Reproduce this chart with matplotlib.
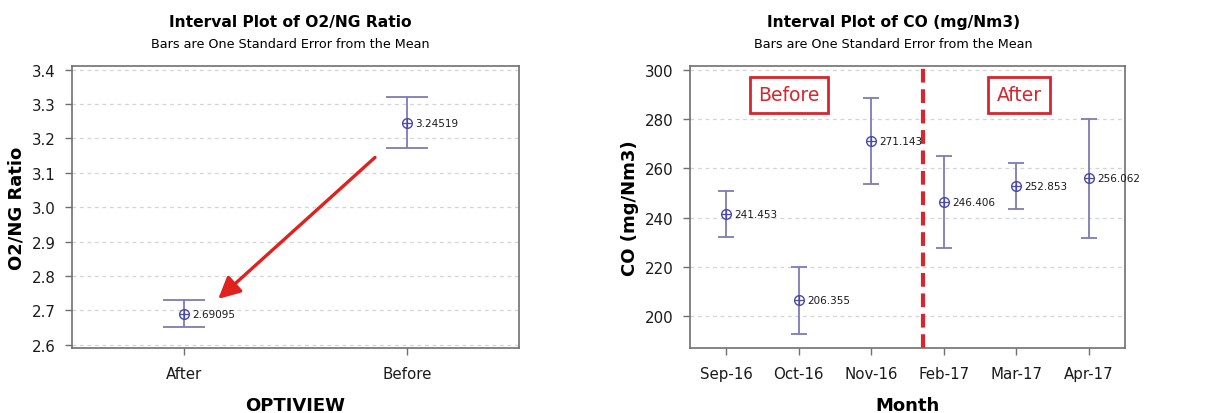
import matplotlib
matplotlib.use('Agg')
import matplotlib.pyplot as plt
from matplotlib.patches import FancyArrowPatch

# left panel data
opt_groups = ['After', 'Before']
opt_means = [2.69095, 3.24519]
opt_se = [0.040, 0.074]

# right panel data
months = ['Sep-16', 'Oct-16', 'Nov-16', 'Feb-17', 'Mar-17', 'Apr-17']
co_means = [241.453, 206.355, 271.143, 246.406, 252.853, 256.062]
co_se = [9.2, 13.6, 17.3, 18.7, 9.2, 24.2]

BAR_C = '#7c7cb8'
PT_C = '#4a4aa8'
RED = '#d8262e'
SPINE_C = '#707070'

plt.rcParams['font.family'] = ['DejaVu Sans Condensed', 'DejaVu Sans']

fig = plt.figure(figsize=(12.22, 4.14), dpi=100)
ax1 = fig.add_axes([0.0589, 0.157, 0.3658, 0.681])
ax2 = fig.add_axes([0.5646, 0.157, 0.3560, 0.681])


def style(ax):
    for s in ax.spines.values():
        s.set_color(SPINE_C)
        s.set_linewidth(1.2)
    ax.tick_params(axis='both', colors=SPINE_C, labelcolor='#1a1a1a',
                   labelsize=10.8, length=5, width=1)
    ax.tick_params(axis='y', pad=7)
    ax.tick_params(axis='x', pad=8)
    ax.yaxis.grid(True, linestyle=(0, (3, 3)), color='#d4d4d4', linewidth=0.9)
    ax.set_axisbelow(True)


def interval(ax, xs, means, se, cap, labels):
    ax.errorbar(xs, means, yerr=se, fmt='none', ecolor=BAR_C, elinewidth=1.3,
                capsize=cap, capthick=1.3, zorder=3)
    ax.plot(xs, means, 'o', ms=7, mfc='none', mec=PT_C, mew=1.0, zorder=4)
    ax.plot(xs, means, '+', ms=7, mec=PT_C, mew=0.9, zorder=4)
    for x, m, t in zip(xs, means, labels):
        ax.annotate(t, (x, m), xytext=(6, 0), textcoords='offset points',
                    va='center', ha='left', fontsize=7.5, color='#1a1a1a')


# ---- plot 1
xs1 = list(range(len(opt_groups)))
style(ax1)
interval(ax1, xs1, opt_means, opt_se, 14.8, ['%.5f' % v for v in opt_means])
ax1.set_xlim(-0.5, 1.5)
ax1.set_ylim(2.591, 3.41)
ax1.set_yticks([2.6, 2.7, 2.8, 2.9, 3.0, 3.1, 3.2, 3.3, 3.4])
ax1.set_xticks(xs1)
ax1.set_xticklabels(opt_groups)
ax1.set_ylabel('O2/NG Ratio', fontsize=13, fontweight='bold', labelpad=4)
ax1.set_xlabel('OPTIVIEW', fontsize=13, fontweight='bold', labelpad=11)
ax1.add_patch(FancyArrowPatch((0.865, 3.15), (0.145, 2.728), arrowstyle='-|>,head_length=0.6,head_width=0.3',
                              mutation_scale=22, color='#e0221f', lw=2.4, zorder=5))

# ---- plot 2
xs2 = list(range(len(months)))
style(ax2)
interval(ax2, xs2, co_means, co_se, 6, ['%.3f' % v for v in co_means])
ax2.set_xlim(-0.5, 5.5)
ax2.set_ylim(187, 301.6)
ax2.set_yticks([200, 220, 240, 260, 280, 300])
ax2.set_xticks(xs2)
ax2.set_xticklabels(months)
ax2.set_ylabel('CO (mg/Nm3)', fontsize=13, fontweight='bold', labelpad=4)
ax2.set_xlabel('Month', fontsize=13, fontweight='bold', labelpad=11)
ax2.axvline(2.71, color=RED, lw=3, linestyle=(0, (3.3, 1.6)), zorder=2)
ax2.text(0.868, 290, 'Before', color=RED, fontsize=13.5, ha='center', va='center',
         bbox=dict(boxstyle='square,pad=0.45', fc='white', ec=RED, lw=2))
ax2.text(4.04, 290, 'After', color=RED, fontsize=13.5, ha='center', va='center',
         bbox=dict(boxstyle='square,pad=0.45', fc='white', ec=RED, lw=2))

# titles
fig.text(0.2375, 0.945, 'Interval Plot of O2/NG Ratio', ha='center', va='center',
         fontsize=11.2, fontweight='bold')
fig.text(0.2375, 0.893, 'Bars are One Standard Error from the Mean', ha='center',
         va='center', fontsize=9.2)
fig.text(0.731, 0.945, 'Interval Plot of CO (mg/Nm3)', ha='center', va='center',
         fontsize=11.2, fontweight='bold')
fig.text(0.731, 0.893, 'Bars are One Standard Error from the Mean', ha='center',
         va='center', fontsize=9.2)

fig.savefig('out.png', dpi=100)
